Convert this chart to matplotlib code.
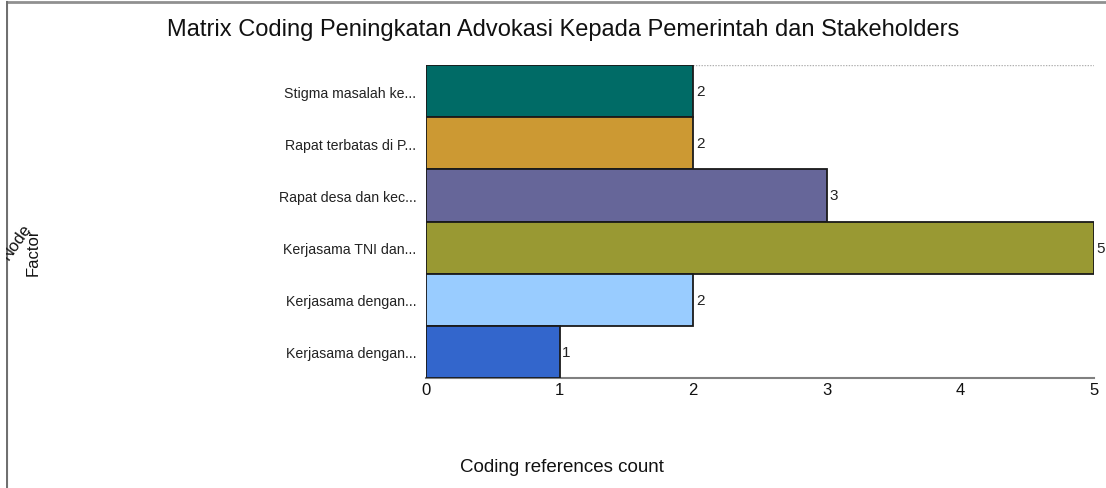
from matplotlib import pyplot as plt
from matplotlib.lines import Line2D

plt.rcParams['font.family'] = ['Liberation Sans', 'DejaVu Sans']

# data, top to bottom as in the chart
labels = ['Stigma masalah ke...', 'Rapat terbatas di P...', 'Rapat desa dan kec...',
          'Kerjasama TNI dan...', 'Kerjasama dengan...', 'Kerjasama dengan...']
counts = [2, 2, 3, 5, 2, 1]
colors = ['#006B66', '#CC9933', '#666699', '#999933', '#99CCFF', '#3366CC']
x_ticks = [0, 1, 2, 3, 4, 5]

fig = plt.figure(figsize=(11.06, 4.89), dpi=100)
ax = fig.add_axes([426 / 1106, 1 - 379 / 489, (1094 - 426) / 1106, (379 - 66) / 489])

pos = list(range(len(labels)))
ax.barh(pos, counts, height=1.0, color=colors, edgecolor='#1a1a1a', linewidth=1.3, zorder=3)
ax.set_ylim(len(labels) - 0.5, -0.5)
ax.set_xlim(0, 5)

for p, c in zip(pos, counts):
    ax.text(c + 0.02, p, str(c), va='center', ha='left', fontsize=11, color='#222222')

ax.set_yticks(pos)
ax.set_yticklabels(labels, fontsize=10.2, color='#222222')
ax.set_xticks(x_ticks)
ax.set_xticklabels([str(t) for t in x_ticks], fontsize=12, color='#111111')
ax.tick_params(axis='y', length=0, pad=7)
ax.tick_params(axis='x', length=0, pad=3)

for s in ['top', 'right', 'left']:
    ax.spines[s].set_visible(False)
ax.spines['bottom'].set_color('#808080')
ax.spines['bottom'].set_linewidth(1.5)

# dotted line along top of the plot
ax.axhline(-0.5, color='#b0b0b0', linestyle=(0, (1, 1)), linewidth=1, zorder=1)

fig.text(563 / 1106, 1 - 30 / 489, 'Matrix Coding Peningkatan Advokasi Kepada Pemerintah dan Stakeholders',
         ha='center', va='center', fontsize=17, color='#111111')
fig.text(562 / 1106, 1 - 468 / 489, 'Coding references count',
         ha='center', va='center', fontsize=13.5, color='#111111')

# overlapping axis titles at the left edge
fig.text(33 / 1106, 1 - 252 / 489, 'Factor', rotation=90, ha='center', va='center',
         fontsize=12, color='#111111')
fig.text(16 / 1106, 1 - 242 / 489, 'Node', rotation=55, ha='center', va='center',
         fontsize=12, color='#111111')

# screenshot frame
fig.add_artist(Line2D([0, 1], [1 - 3 / 489, 1 - 3 / 489], color='#909090', linewidth=2))
fig.add_artist(Line2D([7 / 1106, 7 / 1106], [0, 1 - 3 / 489], color='#707070', linewidth=1.5))
# white cover for left clip of rotated label
fig.patches.append(plt.Rectangle((0, 0), 6 / 1106, 1, transform=fig.transFigure,
                                 facecolor='white', edgecolor='none', zorder=5))

fig.savefig('out.png', dpi=100)
